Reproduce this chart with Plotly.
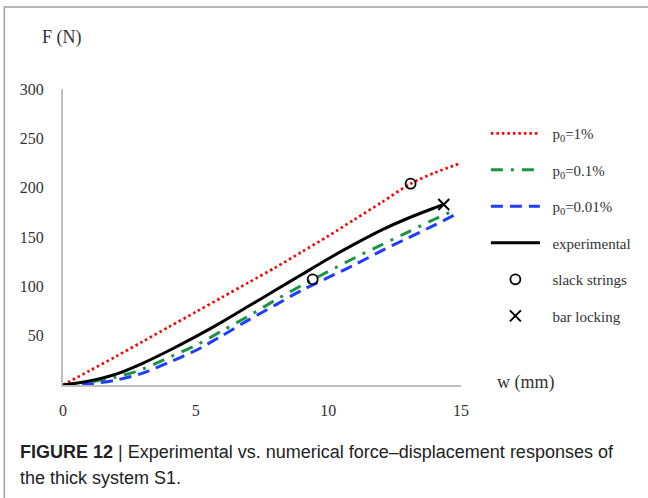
import plotly.graph_objects as go

# Force-displacement curves, w (mm) vs F (N)
w_p1 = [0, 1, 2, 3, 4, 5, 6, 7, 8, 9, 10, 11, 12, 13.1, 14, 15]
F_p1 = [0, 14.5, 29, 44, 59, 74, 89, 104, 119, 135, 151, 168, 185, 204, 215, 225]

w_p01 = [0, 1, 2, 3, 4, 5, 6, 7, 8, 9, 10, 11, 12, 13, 14, 14.75]
F_p01 = [0, 3, 8, 16, 28, 40, 55, 70, 86, 101, 115, 129, 142, 155, 168, 177]

w_p001 = [0, 1, 2, 3, 4, 5, 6, 7, 8, 9, 10, 11, 12, 13, 14, 14.8]
F_p001 = [0, 1, 5, 12, 23, 35, 50, 66, 81, 96, 109, 122, 136, 149, 162, 173]

w_exp = [0, 1, 2, 3, 4, 5, 6, 7, 8, 9, 10, 11, 12, 13, 14, 14.35]
F_exp = [0, 4, 11, 22, 35, 49, 64, 80, 96, 112, 128, 143, 157, 169, 179.5, 183]

w_slack = [9.41, 13.1]
F_slack = [107, 204]

w_lock = [14.35]
F_lock = [183]

x_ticks = [0, 5, 10, 15]
y_ticks = [50, 100, 150, 200, 250, 300]

SERIF = "Liberation Serif"
SANS = "Liberation Sans"
TXT = "#333333"
NB = "\u00a0\u00a0"

fig = go.Figure()
fig.add_trace(go.Scatter(x=w_p1, y=F_p1, mode="lines", name=NB + "p<sub>0</sub>=1%",
                         line=dict(color="#ff0000", width=2.7, dash="2.5px,3px",
                                   shape="spline", smoothing=0.8),
                         legendgroup="a"))
fig.add_trace(go.Scatter(x=w_p01, y=F_p01, mode="lines", name=NB + "p<sub>0</sub>=0.1%",
                         line=dict(color="#1a9641", width=3, dash="12px,8px,3px,8px",
                                   shape="spline", smoothing=0.8),
                         legendgroup="b"))
fig.add_trace(go.Scatter(x=w_p001, y=F_p001, mode="lines", name=NB + "p<sub>0</sub>=0.01%",
                         line=dict(color="#1f3cff", width=3, dash="12px,7px",
                                   shape="spline", smoothing=0.8),
                         legendgroup="c"))
fig.add_trace(go.Scatter(x=w_exp, y=F_exp, mode="lines", name=NB + "experimental",
                         line=dict(color="#000000", width=3,
                                   shape="spline", smoothing=0.8),
                         legendgroup="d"))
fig.add_trace(go.Scatter(x=w_slack, y=F_slack, mode="markers", name=NB + "slack strings",
                         marker=dict(symbol="circle-open", size=10, color="#000000",
                                     line=dict(width=1.8)),
                         legendgroup="e"))
fig.add_trace(go.Scatter(x=w_lock, y=F_lock, mode="markers", name=NB + "bar locking",
                         marker=dict(symbol="x-thin-open", size=11, color="#000000",
                                     line=dict(width=2)),
                         legendgroup="f"))

fig.update_layout(
    width=648, height=498,
    margin=dict(l=63, r=185, t=89, b=113),
    paper_bgcolor="white", plot_bgcolor="white",
    font=dict(family=SERIF, size=16, color=TXT),
    showlegend=True,
    legend=dict(x=1.0625, xanchor="left", y=0.905, yanchor="top",
                font=dict(family=SERIF, size=15, color=TXT),
                tracegroupgap=14, itemwidth=49, bgcolor="rgba(0,0,0,0)"),
    xaxis=dict(range=[0, 15], tickvals=x_ticks, ticktext=[str(v) for v in x_ticks],
               showgrid=False, zeroline=False, showline=True, linecolor="#bfbfbf",
               linewidth=2, ticks="", ticklabelstandoff=10,
               tickfont=dict(family=SERIF, size=16, color=TXT)),
    yaxis=dict(range=[0, 300], tickvals=y_ticks, ticktext=[str(v) for v in y_ticks],
               showgrid=False, zeroline=False, showline=True, linecolor="#bfbfbf",
               linewidth=2, ticks="", ticklabelstandoff=14,
               tickfont=dict(family=SERIF, size=16, color=TXT)),
)

def px(xp):
    return (xp - 63) / 400.0

def py(yp):
    return (385 - yp) / 296.0

fig.add_annotation(text="F (N)", x=px(40), y=py(37), xref="paper", yref="paper",
                   xanchor="left", yanchor="middle",
                   showarrow=False, font=dict(family=SERIF, size=18, color=TXT))
fig.add_annotation(text="w (mm)", x=px(497), y=py(382), xref="paper", yref="paper",
                   xanchor="left", yanchor="middle",
                   showarrow=False, font=dict(family=SERIF, size=18, color=TXT))

fig.add_annotation(text="<b>FIGURE 12</b> | Experimental vs. numerical force\u2013displacement responses of",
                   x=px(18), y=py(452), xref="paper", yref="paper",
                   xanchor="left", yanchor="middle",
                   showarrow=False, font=dict(family=SANS, size=18, color="#222222"))
fig.add_annotation(text="the thick system S1.",
                   x=px(18), y=py(478), xref="paper", yref="paper",
                   xanchor="left", yanchor="middle",
                   showarrow=False, font=dict(family=SANS, size=18, color="#222222"))

# outer frame
fig.add_shape(type="rect", xref="paper", yref="paper",
              x0=px(4), x1=px(700), y0=py(560), y1=py(7),
              line=dict(color="#a0a0a0", width=1.5), layer="below")

fig.write_html("out.html")
